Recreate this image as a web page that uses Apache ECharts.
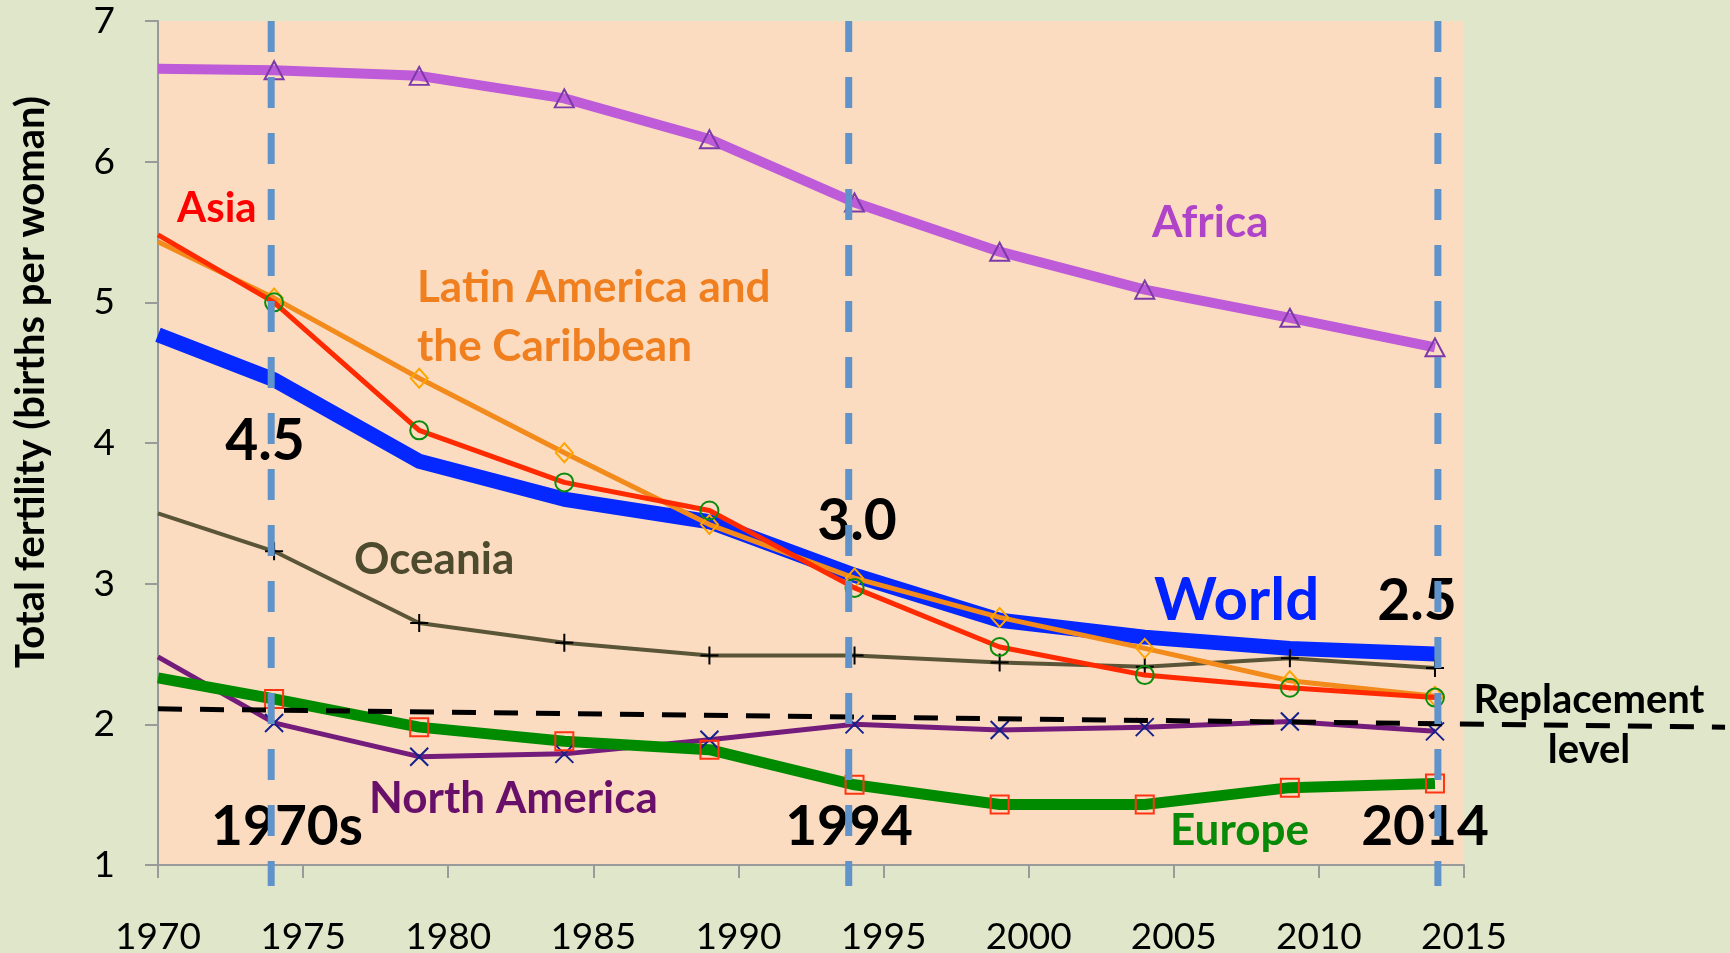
<!DOCTYPE html>
<html>
<head>
<meta charset="utf-8">
<script src="https://cdn.jsdelivr.net/npm/echarts@6/dist/echarts.min.js"></script>
<style>
    html, body { margin: 0; padding: 0; background: #dfe6c9; }
    #chart { width: 1730px; height: 953px; }
</style>
</head>
<body>
<div id="chart"></div>
<script>
// 数据
const years = [1970, 1974, 1979, 1984, 1989, 1994, 1999, 2004, 2009, 2014];
const africa = [6.66, 6.65, 6.61, 6.45, 6.16, 5.71, 5.36, 5.09, 4.89, 4.68];
const asia = [5.48, 5.00, 4.09, 3.72, 3.52, 2.97, 2.55, 2.35, 2.26, 2.19];
const latinAmerica = [5.43, 5.03, 4.46, 3.93, 3.42, 3.04, 2.76, 2.54, 2.31, 2.20];
const world = [4.77, 4.45, 3.87, 3.60, 3.44, 3.06, 2.74, 2.62, 2.54, 2.50];
const oceania = [3.50, 3.23, 2.72, 2.58, 2.49, 2.49, 2.44, 2.41, 2.47, 2.40];
const northAmerica = [2.48, 2.01, 1.77, 1.79, 1.89, 2.00, 1.96, 1.98, 2.02, 1.95];
const europe = [2.33, 2.18, 1.98, 1.88, 1.82, 1.57, 1.43, 1.43, 1.55, 1.58];

// 参考线
const markerYears = [1973.9, 1993.8, 2014.1];
const replacementLine = [[1970, 2.11], [2024, 1.98]];

const FONT = 'Lato';
const PLUS = 'path://M0,5L10,5M5,0L5,10';
const CROSS = 'path://M0,0L10,10M10,0L0,10';

/**
 * 生成一条折线 (1970 点不画标记)
 */
function makeSeries(name, values, opt) {
    const data = years.map((y, i) => {
        if (i === 0) return { value: [y, values[i]], symbol: 'none' };
        return [y, values[i]];
    });
    return {
        name: name,
        type: 'line',
        data: data,
        symbol: opt.symbol,
        symbolSize: opt.symbolSize,
        showSymbol: true,
        lineStyle: { color: opt.color, width: opt.width, join: 'round' },
        itemStyle: {
            color: opt.fill || 'rgba(0,0,0,0)',
            borderColor: opt.markColor,
            borderWidth: opt.markWidth || 2
        },
        z: opt.z || 2,
        silent: true,
        animation: false
    };
}

const worldData = years.map((y, i) => [y, world[i]]);
worldData[worldData.length - 1] = { value: worldData[worldData.length - 1], symbol: 'circle', symbolSize: 12 };

const series = [
    {
        name: 'World', type: 'line', data: worldData, symbol: 'none', showSymbol: true,
        lineStyle: { color: '#0428ff', width: 15, join: 'round' },
        itemStyle: { color: '#0428ff' }, z: 2, silent: true, animation: false
    },
    makeSeries('Africa', africa, { color: '#bd5bd8', width: 10, symbol: 'triangle', symbolSize: [19, 18], markColor: '#7b3aa8' }),
    makeSeries('Oceania', oceania, { color: '#5b5538', width: 4, symbol: PLUS, symbolSize: 18, markColor: '#000', z: 3 }),
    makeSeries('North America', northAmerica, { color: '#741c7b', width: 5, symbol: CROSS, symbolSize: 18, markColor: '#14208c', z: 3 }),
    makeSeries('Europe', europe, { color: '#008a00', width: 11, symbol: 'rect', symbolSize: 18, markColor: '#ff3512', z: 3 }),
    makeSeries('Latin America and the Caribbean', latinAmerica, { color: '#f28a1c', width: 5, symbol: 'diamond', symbolSize: [17, 19], markColor: '#ffa500', z: 4 }),
    makeSeries('Asia', asia, { color: '#ff2a00', width: 5, symbol: 'circle', symbolSize: 18, markColor: '#0c8c0c', z: 5 }),
    // 替代水平线画在第二个 (更宽的) 坐标系上, 可以伸出图区
    {
        name: 'Replacement level', type: 'line', data: replacementLine, symbol: 'none',
        xAxisIndex: 1, yAxisIndex: 1, clip: false,
        lineStyle: { color: '#000', width: 5, type: [24, 18] }, z: 6, silent: true, animation: false
    }
];

markerYears.forEach(x => {
    series.push({
        type: 'line', data: [[x, 7], [x, 0.85]], symbol: 'none', clip: false,
        lineStyle: { color: '#5f93c9', width: 7, type: [31, 25], cap: 'butt' },
        z: 10, silent: true, animation: false
    });
});

// 文字标注
function label(text, x, y, size, color, align) {
    return {
        type: 'text', x: x, y: y, z: 1,
        style: {
            text: text, fill: color, align: align || 'left', verticalAlign: 'middle',
            font: 'bold ' + size + 'px ' + FONT
        }
    };
}

const graphics = [
    {
        type: 'text', x: 31, y: 382, rotation: Math.PI / 2, z: 1,
        style: { text: 'Total fertility (births per woman)', fill: '#000', align: 'center', verticalAlign: 'middle', font: 'bold 40px ' + FONT }
    },
    label('Asia', 177, 208, 42, '#ff0000'),
    label('Latin America and', 417, 288, 44, '#f07f1f'),
    label('the Caribbean', 417, 347, 44, '#f07f1f'),
    label('Africa', 1152, 223, 44, '#b044c9'),
    label('Oceania', 354, 560, 44, '#4e4a2e'),
    label('North America', 369, 799, 44, '#680f6a'),
    label('World', 1154, 601, 60, '#0022ff'),
    label('Europe', 1170, 831, 44, '#088a08'),
    label('4.5', 265, 442, 57, '#000', 'center'),
    label('3.0', 857, 522, 57, '#000', 'center'),
    label('2.5', 1417, 602, 57, '#000', 'center'),
    label('1970s', 287, 827, 55, '#000', 'center'),
    label('1994', 849, 827, 55, '#000', 'center'),
    label('2014', 1425, 827, 55, '#000', 'center'),
    label('Replacement', 1589, 700, 40, '#000', 'center'),
    label('level', 1589, 750, 40, '#000', 'center')
];

const chart = echarts.init(document.getElementById('chart'));
chart.setOption({
    backgroundColor: '#dfe6c9',
    animation: false,
    grid: [
        {
            left: 158, right: 266, top: 21, bottom: 88,
            outerBoundsMode: 'none', containLabel: false,
            show: true, backgroundColor: '#fcdcc0', borderWidth: 0
        },
        // 宽度 1572 px, 与主图区同样 29.02 px/年
        { left: 158, right: 0, top: 21, bottom: 88, outerBoundsMode: 'none', containLabel: false, show: false }
    ],
    xAxis: [
        {
            type: 'value', min: 1970, max: 2015, interval: 5,
            axisLine: { lineStyle: { color: '#9a9a9a', width: 2 } },
            axisTick: { show: true, length: 13, lineStyle: { color: '#9a9a9a', width: 2 } },
            axisLabel: { color: '#000', fontFamily: FONT, fontSize: 37, margin: 54, formatter: v => String(v) },
            splitLine: { show: false }
        },
        { type: 'value', gridIndex: 1, min: 1970, max: 2024.17, show: false }
    ],
    yAxis: [
        {
            type: 'value', min: 1, max: 7, interval: 1,
            axisLine: { show: true, lineStyle: { color: '#9a9a9a', width: 2 } },
            axisTick: { show: true, length: 13, lineStyle: { color: '#9a9a9a', width: 2 } },
            axisLabel: { color: '#000', fontFamily: FONT, fontSize: 37, margin: 43 },
            splitLine: { show: false }
        },
        { type: 'value', gridIndex: 1, min: 1, max: 7, show: false }
    ],
    series: series,
    graphic: graphics
});
</script>
</body>
</html>
